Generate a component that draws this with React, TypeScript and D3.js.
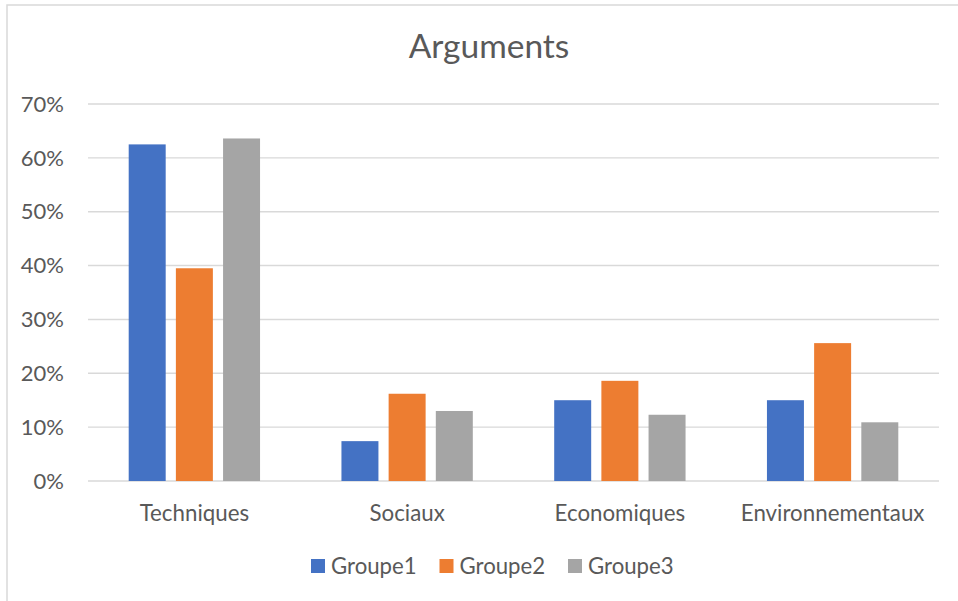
import React from "react";
import * as d3 from "d3";

const categories = ["Techniques", "Sociaux", "Economiques", "Environnementaux"];
const seriesNames = ["Groupe1", "Groupe2", "Groupe3"];
const groupe1 = [0.625, 0.074, 0.15, 0.15];
const groupe2 = [0.395, 0.162, 0.186, 0.256];
const groupe3 = [0.636, 0.13, 0.123, 0.109];
const yTicks = [0, 0.1, 0.2, 0.3, 0.4, 0.5, 0.6, 0.7];
const colors = ["#4472C4", "#ED7D31", "#A5A5A5"];
const title = "Arguments";

const W = 958;
const H = 601;
const FONT = "Lato, 'Open Sans', sans-serif";
const TEXT = "#595959";
const GRID = "#D9D9D9";

export default function App() {
  const series = [groupe1, groupe2, groupe3];
  const x0 = d3.scaleBand<string>().domain(categories).range([88, 939]).paddingInner(0).paddingOuter(0);
  const outer = 40.7;
  const x1 = d3
    .scaleBand<string>()
    .domain(seriesNames)
    .range([outer, x0.bandwidth() - outer])
    .paddingInner(0.216)
    .paddingOuter(0);
  const y = d3.scaleLinear().domain([0, 0.7]).range([481, 104]);
  const fmt = d3.format(".0%");

  const legendX = d3.scaleLinear().domain([0, 1]).range([311, 439.5]);

  return (
    <div style={{ position: "fixed", left: 0, top: 0 }}>
      <svg width={W} height={H} style={{ display: "block", background: "#fff" }}>
        <rect x={7} y={5} width={1000} height={700} fill="#fff" stroke={GRID} strokeWidth={1.5} />
        <text x={489} y={58} textAnchor="middle" fontFamily={FONT} fontSize={33.5} fill={TEXT}>
          {title}
        </text>
        {yTicks.map((t) => (
          <g key={t}>
            <line x1={88} x2={939} y1={y(t)} y2={y(t)} stroke={GRID} strokeWidth={1.4} />
            <text
              x={64}
              y={y(t)}
              dy="0.35em"
              textAnchor="end"
              fontFamily={FONT}
              fontSize={22}
              fill={TEXT}
            >
              {fmt(t)}
            </text>
          </g>
        ))}
        {categories.map((c, ci) => (
          <g key={c} transform={`translate(${x0(c)},0)`}>
            {seriesNames.map((s, si) => (
              <rect
                key={s}
                x={x1(s)}
                y={y(series[si][ci])}
                width={x1.bandwidth()}
                height={y(0) - y(series[si][ci])}
                fill={colors[si]}
              />
            ))}
            <text
              x={x0.bandwidth() / 2}
              y={521}
              textAnchor="middle"
              fontFamily={FONT}
              fontSize={22.3}
              fill={TEXT}
            >
              {c}
            </text>
          </g>
        ))}
        {seriesNames.map((s, si) => (
          <g key={s} transform={`translate(${legendX(si)},559)`}>
            <rect x={0} y={0} width={14} height={14} fill={colors[si]} />
            <text x={20} y={14.5} fontFamily={FONT} fontSize={22.2} fill={TEXT}>
              {s}
            </text>
          </g>
        ))}
      </svg>
    </div>
  );
}
